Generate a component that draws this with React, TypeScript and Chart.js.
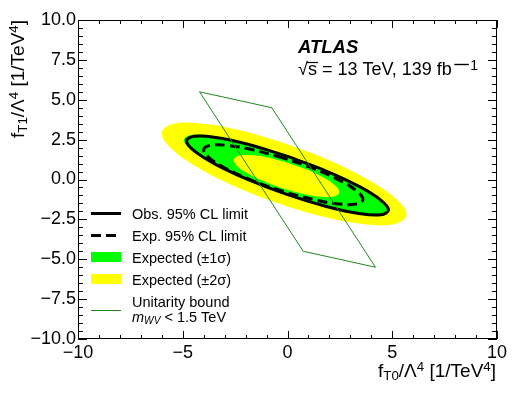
import React, { useEffect, useRef } from "react";
import { Chart, registerables } from "chart.js";

Chart.register(...registerables);

const FONT = "'Liberation Sans', Arial, Helvetica, sans-serif";

// Axis ticks and labels
const X_TICKS = [-10, -5, 0, 5, 10];
const X_TICK_LABELS = ["−10", "−5", "0", "5", "10"];
const Y_TICKS = [-10, -7.5, -5, -2.5, 0, 2.5, 5, 7.5, 10];
const Y_TICK_LABELS = ["−10.0", "−7.5", "−5.0", "−2.5", "0.0", "2.5", "5.0", "7.5", "10.0"];

// Contours (fT0, fT1) in 1/TeV^4
const EXPECTED_2SIGMA: [number, number][] = [
  [-0.2, 2.3], [-2.42, 3.13], [-4.3, 3.53], [-5.56, 3.45], [-6.0, 2.9], [-5.56, 1.96],
  [-4.3, 0.77], [-2.42, -0.48], [-0.2, -1.6], [2.02, -2.43], [3.9, -2.83], [5.2, -2.76],
  [5.68, -2.2], [5.2, -1.26], [3.9, -0.07], [2.02, 1.18], [-0.2, 2.3],
];
const EXPECTED_1SIGMA: [number, number][] = [
  [-0.05, 1.53], [-1.93, 2.28], [-3.52, 2.72], [-4.58, 2.79], [-4.95, 2.48], [-4.58, 1.84],
  [-3.52, 0.95], [-1.93, -0.03], [-0.05, -0.97], [1.83, -1.72], [3.42, -2.16], [4.48, -2.23],
  [4.85, -1.92], [4.48, -1.28], [3.42, -0.39], [1.83, 0.59], [-0.05, 1.53],
];
const EXPECTED_MINUS1SIGMA: [number, number][] = [
  [-0.05, 1.07], [-1.01, 1.39], [-1.83, 1.53], [-2.38, 1.47], [-2.57, 1.22], [-2.38, 0.82],
  [-1.83, 0.33], [-1.01, -0.18], [-0.05, -0.63], [0.91, -0.95], [1.73, -1.09], [2.28, -1.03],
  [2.47, -0.78], [2.28, -0.38], [1.73, 0.11], [0.91, 0.62], [-0.05, 1.07],
];
const OBSERVED: [number, number][] = [
  [0.0, 1.45], [-1.85, 2.19], [-3.41, 2.63], [-4.45, 2.71], [-4.82, 2.41], [-4.45, 1.79],
  [-3.41, 0.93], [-1.85, -0.03], [0.0, -0.95], [1.85, -1.69], [3.41, -2.13], [4.45, -2.21],
  [4.82, -1.91], [4.45, -1.29], [3.41, -0.43], [1.85, 0.53], [0.0, 1.45],
];
const EXPECTED: [number, number][] = [
  [-0.2, 1.35], [-1.65, 1.86], [-2.89, 2.14], [-3.71, 2.13], [-4.0, 1.85], [-3.71, 1.33],
  [-2.89, 0.65], [-1.65, -0.08], [-0.2, -0.75], [1.25, -1.26], [2.49, -1.54], [3.31, -1.53],
  [3.6, -1.25], [3.31, -0.73], [2.49, -0.05], [1.25, 0.68], [-0.2, 1.35],
];
const UNITARITY: [number, number][] = [
  [-4.2, 5.5], [-0.75, 4.5], [4.2, -5.5], [0.75, -4.5], [-4.2, 5.5],
];

const LEGEND_LABELS = ["Obs. 95% CL limit", "Exp. 95% CL limit", "Expected (±1σ)", "Expected (±2σ)", "Unitarity bound"];

const YELLOW = "#ffff00";
const GREEN = "#00ff00";
const UNI_GREEN = "rgb(30,136,30)";

const pts = (a: [number, number][]) => a.map(([x, y]) => ({ x, y }));

type Seg = { t: string; mode?: "sub" | "sup"; italic?: boolean; bold?: boolean };

function drawRich(ctx: CanvasRenderingContext2D, segs: Seg[], x: number, y: number, size: number, align: "left" | "right") {
  const fontFor = (s: Seg) => {
    const sz = s.mode ? size * 0.7 : size;
    return `${s.italic ? "italic " : ""}${s.bold ? "bold " : ""}${sz}px ${FONT}`;
  };
  let total = 0;
  const widths = segs.map((s) => {
    ctx.font = fontFor(s);
    const w = ctx.measureText(s.t).width;
    total += w;
    return w;
  });
  let cx = align === "right" ? x - total : x;
  ctx.textAlign = "left";
  ctx.textBaseline = "alphabetic";
  segs.forEach((s, i) => {
    ctx.font = fontFor(s);
    const dy = s.mode === "sub" ? size * 0.18 : s.mode === "sup" ? -size * 0.3 : 0;
    ctx.fillText(s.t, cx, y + dy);
    cx += widths[i];
  });
  return total;
}

const decorPlugin = {
  id: "decor",
  afterDraw(chart: any) {
    const ctx: CanvasRenderingContext2D = chart.ctx;
    const { left, right, top, bottom } = chart.chartArea;
    const xs = chart.scales.x;
    const ys = chart.scales.y;
    ctx.save();
    ctx.strokeStyle = "#000";
    ctx.fillStyle = "#000";
    ctx.lineWidth = 1;
    ctx.setLineDash([]);
    ctx.strokeRect(left + 0.5, top + 0.5, right - left - 1, bottom - top - 1);
    const line = (x1: number, y1: number, x2: number, y2: number) => {
      ctx.beginPath();
      ctx.moveTo(x1, y1);
      ctx.lineTo(x2, y2);
      ctx.stroke();
    };
    for (let i = 0; i <= 20; i++) {
      const v = -10 + i;
      const px = Math.round(xs.getPixelForValue(v)) + 0.5;
      const len = i % 5 === 0 ? 8 : 4;
      line(px, bottom, px, bottom - len);
      line(px, top, px, top + len);
    }
    for (let i = 0; i <= 40; i++) {
      const v = -10 + i * 0.5;
      const py = Math.round(ys.getPixelForValue(v)) + 0.5;
      const len = i % 5 === 0 ? 9 : 5;
      line(left, py, left + len, py);
      line(right, py, right - len, py);
    }

    // axis titles
    drawRich(ctx, [
      { t: "f" }, { t: "T0", mode: "sub" }, { t: "/Λ" }, { t: "4", mode: "sup" },
      { t: " [1/TeV" }, { t: "4", mode: "sup" }, { t: "]" },
    ], 496, 377, 19, "right");
    ctx.save();
    ctx.translate(23.5, 20);
    ctx.rotate(-Math.PI / 2);
    drawRich(ctx, [
      { t: "f" }, { t: "T1", mode: "sub" }, { t: "/Λ" }, { t: "4", mode: "sup" },
      { t: " [1/TeV" }, { t: "4", mode: "sup" }, { t: "]" },
    ], 0, 0, 19, "right");
    ctx.restore();

    // ATLAS label
    ctx.font = `italic bold 18.5px ${FONT}`;
    ctx.textAlign = "left";
    ctx.textBaseline = "alphabetic";
    ctx.fillText("ATLAS", 298, 52.5);
    // sqrt(s) label
    ctx.font = `18px ${FONT}`;
    const xr = 298;
    const by = 75;
    ctx.fillText("√", xr, by);
    const wr = ctx.measureText("√").width;
    ctx.fillText("s", xr + wr, by);
    const ws = ctx.measureText("s").width;
    ctx.lineWidth = 1.2;
    line(xr + wr - 1, by - 12.5, xr + wr + ws + 1, by - 12.5);
    const wmain = drawRich(ctx, [{ t: " = 13 TeV, 139 fb" }], xr + wr + ws, by, 18, "left");
    const xe = xr + wr + ws + wmain;
    ctx.lineWidth = 1.4;
    line(xe + 2.5, by - 10.5, xe + 17, by - 10.5);
    ctx.font = `14px ${FONT}`;
    ctx.fillText("1", xe + 18.5, by - 5.5);

    // legend
    const lx0 = 91, lx1 = 121, tx = 132;
    const lsz = 14.5;
    ctx.strokeStyle = "#000";
    ctx.lineWidth = 3;
    line(lx0, 213.5, lx1, 213.5);
    ctx.setLineDash([10, 5]);
    line(lx0, 235.5, lx1, 235.5);
    ctx.setLineDash([]);
    ctx.fillStyle = GREEN;
    ctx.fillRect(lx0, 252, lx1 - lx0, 10);
    ctx.fillStyle = YELLOW;
    ctx.fillRect(lx0, 274, lx1 - lx0, 10);
    ctx.strokeStyle = UNI_GREEN;
    ctx.lineWidth = 1;
    line(lx0, 310.5, lx1, 310.5);
    ctx.fillStyle = "#000";
    const baselines = [219, 240.5, 262.5, 284.5, 306.5];
    LEGEND_LABELS.forEach((t, i) => drawRich(ctx, [{ t }], tx, baselines[i], lsz, "left"));
    drawRich(ctx, [{ t: "m", italic: true }, { t: "WV", mode: "sub", italic: true }, { t: " < 1.5 TeV" }], tx, 321.5, lsz, "left");
    ctx.restore();
  },
};

export default function App() {
  const ref = useRef<HTMLCanvasElement | null>(null);
  useEffect(() => {
    if (!ref.current) return;
    const fillDs = (data: [number, number][], color: string, order: number) => ({
      data: pts(data),
      showLine: true,
      pointRadius: 0,
      tension: 0.4,
      borderWidth: 0,
      borderColor: "rgba(0,0,0,0)",
      backgroundColor: color,
      fill: "shape",
      order,
    });
    const chart = new Chart(ref.current, {
      type: "scatter",
      data: {
        datasets: [
          fillDs(EXPECTED_2SIGMA, YELLOW, 10),
          fillDs(EXPECTED_1SIGMA, GREEN, 9),
          fillDs(EXPECTED_MINUS1SIGMA, YELLOW, 8),
          {
            data: pts(OBSERVED), showLine: true, pointRadius: 0, tension: 0.4,
            borderColor: "#000", borderWidth: 3, fill: false, order: 7,
          },
          {
            data: pts(EXPECTED), showLine: true, pointRadius: 0, tension: 0.4,
            borderColor: "#000", borderWidth: 3, borderDash: [10, 5], fill: false, order: 6,
          },
          {
            data: pts(UNITARITY), showLine: true, pointRadius: 0, tension: 0,
            borderColor: UNI_GREEN, borderWidth: 1, fill: false, order: 5,
          },
        ] as any,
      },
      options: {
        responsive: false,
        animation: false,
        devicePixelRatio: 1,
        layout: { padding: { left: 0, right: 35, top: 20, bottom: 0 } },
        plugins: { legend: { display: false }, tooltip: { enabled: false } },
        scales: {
          x: {
            type: "linear",
            min: -10,
            max: 10,
            afterFit: (s: any) => { s.height = 60; },
            afterBuildTicks: (s: any) => { s.ticks = X_TICKS.map((value) => ({ value })); },
            grid: { display: false, drawTicks: false },
            border: { display: false },
            ticks: {
              autoSkip: false,
              maxRotation: 0,
              padding: 3,
              color: "#000",
              font: { family: FONT, size: 18 },
              callback: (_v: any, i: number) => X_TICK_LABELS[i],
            },
          },
          y: {
            type: "linear",
            min: -10,
            max: 10,
            afterFit: (s: any) => { s.width = 78; },
            afterBuildTicks: (s: any) => { s.ticks = Y_TICKS.map((value) => ({ value })); },
            grid: { display: false, drawTicks: false },
            border: { display: false },
            ticks: {
              autoSkip: false,
              padding: 2,
              color: "#000",
              font: { family: FONT, size: 18 },
              callback: (_v: any, i: number) => Y_TICK_LABELS[i],
            },
          },
        },
      } as any,
      plugins: [decorPlugin],
    });
    return () => chart.destroy();
  }, []);
  return (
    <div style={{ position: "absolute", left: 0, top: 0, width: 532, height: 399, background: "#fff" }}>
      <canvas ref={ref} width={532} height={399} style={{ display: "block" }} />
    </div>
  );
}
